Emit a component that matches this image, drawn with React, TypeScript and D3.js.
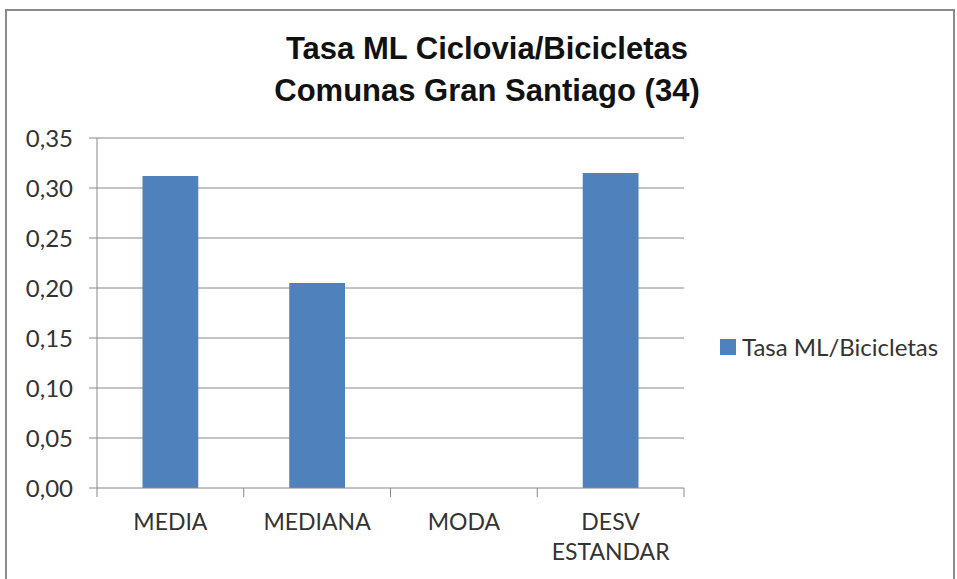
import * as d3 from 'd3'

const categories = ['MEDIA', 'MEDIANA', 'MODA', 'DESV ESTANDAR']
const values = [0.312, 0.205, 0, 0.315]
const yTicks = [0, 0.05, 0.1, 0.15, 0.2, 0.25, 0.3, 0.35]
const seriesName = 'Tasa ML/Bicicletas'
const titleLines = ['Tasa ML Ciclovia/Bicicletas', 'Comunas Gran Santiago (34)']

const width = 957
const height = 579
const left = 97
const right = 684
const top = 138
const bottom = 488
const barColor = '#4F81BD'
const gridColor = '#888888'
const labelFont = 'Lato, "Open Sans", sans-serif'

const App = () => {
  const x = d3.scaleBand().domain(categories).range([left, right]).paddingInner(0.62).paddingOuter(0.31)
  const y = d3.scaleLinear().domain([0, 0.35]).range([bottom, top])
  const step = x.step()
  const fmt = (v: number) => d3.format('.2f')(v).replace('.', ',')

  return (
    <svg width={width} height={height} style={{position: 'absolute', left: 0, top: 0}}>
      <rect x={0} y={0} width={width} height={height} fill="#fff"/>
      {/* chart frame */}
      <path d={`M6,${height} V10 H954 V${height}`} fill="none" stroke="#8a8a8a" strokeWidth={2}/>

      {titleLines.map((t, i) => (
        <text key={t} x={487} y={59 + i * 42} textAnchor="middle" fontFamily='"Liberation Sans Narrow", "Arial Narrow", "Liberation Sans", Arial, sans-serif'
              fontWeight="bold" fontSize={31} fill="#111">{t}</text>
      ))}

      {yTicks.map((t) => (
        <g key={t}>
          {t > 0 && <line x1={left} x2={right} y1={y(t)} y2={y(t)} stroke={gridColor} strokeWidth={1}/>}
          <line x1={left - 8} x2={left} y1={y(t)} y2={y(t)} stroke={gridColor}/>
          <text x={73} y={y(t) + 8.5} textAnchor="end" fontFamily={labelFont} fontSize={24} fill="#333">{fmt(t)}</text>
        </g>
      ))}

      {categories.map((c, i) => (
        <rect key={c} x={x(c)} y={y(values[i])} width={x.bandwidth()} height={bottom - y(values[i])} fill={barColor}/>
      ))}

      <line x1={left} x2={left} y1={top} y2={bottom} stroke={gridColor}/>
      <line x1={left} x2={right} y1={bottom} y2={bottom} stroke={gridColor}/>
      {d3.range(categories.length + 1).map((i) => (
        <line key={i} x1={left + i * step} x2={left + i * step} y1={bottom} y2={bottom + 9} stroke={gridColor}/>
      ))}

      {categories.map((c) => {
        const cx = (x(c) ?? 0) + x.bandwidth() / 2
        const words = c.split(' ')
        return (
          <text key={c} textAnchor="middle" fontFamily={labelFont} fontSize={23} fill="#333">
            {words.map((w, j) => (
              <tspan key={w} x={cx} y={530 + j * 30}>{w}</tspan>
            ))}
          </text>
        )
      })}

      <rect x={720} y={339} width={16} height={16} fill={barColor}/>
      <text x={742} y={356} fontFamily={labelFont} fontSize={24} fill="#333">{seriesName}</text>
    </svg>
  )
}

export default App
